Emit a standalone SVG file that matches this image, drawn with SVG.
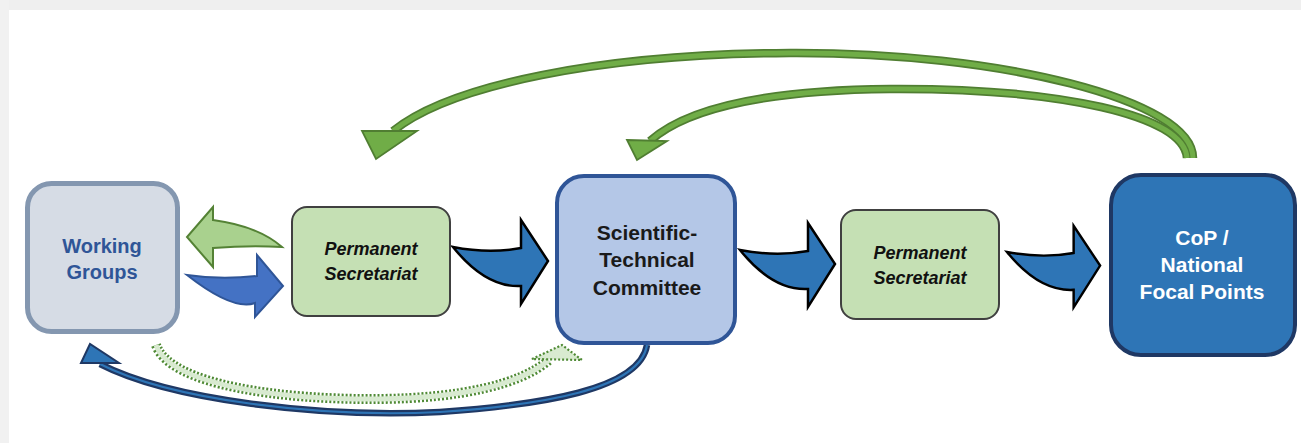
<svg xmlns="http://www.w3.org/2000/svg" xmlns:xlink="http://www.w3.org/1999/xlink" width="1301" height="443" viewBox="0 0 1301 443">
<style>
.lbl{font-family:"Liberation Sans",Arial,sans-serif;font-weight:bold;text-anchor:middle}
.wg{fill:#2f5597;font-size:20px}
.ps{fill:#111;font-size:18px;font-style:italic}
.stc{fill:#1a1a1a;font-size:21px}
.cop{fill:#fff;font-size:21px}
.blk{fill:#2e75b6;stroke:#000;stroke-width:2.5;stroke-linejoin:miter}
.garc-o{fill:none;stroke:#507e32;stroke-width:8.5}
.garc-i{fill:none;stroke:#70ad47;stroke-width:5}
.ghead{fill:#70ad47;stroke:#507e32;stroke-width:1.8;stroke-linejoin:miter}
</style>
<defs>
<path id="blkArrow" d="M0 0 Q36 7 68 1 L68 -27 L95 14 L68 57 L68 39 Q33 41 0 0 Z"/>
</defs>
<rect x="0" y="0" width="1301" height="443" fill="#fff"/>
<rect x="0" y="0" width="1301" height="10" fill="#efefef"/>
<rect x="0" y="0" width="9" height="443" fill="#f1f1f1"/>

<g id="connectors">
  <!-- top green arcs from CoP -->
  <path class="garc-o" d="M1193 158 C1193 100 1000 52 790 53 C600 54 450 85 393 131"/>
  <path class="garc-o" d="M1187 158 C1184 115 1060 88 890 89 C780 90 690 105 650 141"/>
  <path class="garc-i" d="M1193 158 C1193 100 1000 52 790 53 C600 54 450 85 393 131"/>
  <path class="garc-i" d="M1187 158 C1184 115 1060 88 890 89 C780 90 690 105 650 141"/>
  <polygon class="ghead" points="362,131 417,131 376,159"/>
  <polygon class="ghead" points="627,140 667,141 637,160"/>

  <!-- PS1 -> WG green -->
  <path d="M282 247 Q258 226 213 220 L213 207 L187 237 L213 267 L213 248 Q250 245 282 247 Z" fill="#a9d18e" stroke="#548235" stroke-width="2"/>
  <!-- WG -> PS1 blue -->
  <path d="M187 275 Q220 280 257 276 L257 255 L283 286 L255 317 L255 303 Q233 311 187 275 Z" fill="#4472c4" stroke="#2f5597" stroke-width="2"/>

  <!-- black outlined blue arrows -->
  <use xlink:href="#blkArrow" class="blk" transform="translate(453,247)"/>
  <use xlink:href="#blkArrow" class="blk" transform="translate(740,250)"/>
  <use xlink:href="#blkArrow" class="blk" transform="translate(1007,252) scale(0.98,0.97)"/>

  <!-- dotted green WG -> STC -->
  <path d="M156 345 C170 385 280 400 380 399 C460 398 520 385 549 360" fill="none" stroke="#4f8a35" stroke-width="10" stroke-dasharray="2 2"/>
  <path d="M156 345 C170 385 280 400 380 399 C460 398 520 385 549 360" fill="none" stroke="#d8ead0" stroke-width="5"/>
  <polygon points="532,359 562,345 582,360" fill="#d8ead0" stroke="#4f8a35" stroke-width="2.2" stroke-dasharray="2 2"/>

  <!-- blue STC -> WG -->
  <path d="M647 345 C640 390 540 405 440 412 C320 418 170 400 100 364" fill="none" stroke="#1f3864" stroke-width="6.5"/>
  <path d="M647 345 C640 390 540 405 440 412 C320 418 170 400 100 364" fill="none" stroke="#2e75b6" stroke-width="2.2"/>
  <polygon points="90,344 81,363 119,363" fill="#2e75b6" stroke="#1f3864" stroke-width="2"/>
</g>

<g id="node-wg">
  <rect x="27.5" y="183.5" width="150" height="148" rx="24" fill="#d6dce5" stroke="#8497b0" stroke-width="5"/>
  <text class="lbl wg" x="102" y="253">Working</text>
  <text class="lbl wg" x="102" y="279">Groups</text>
</g>
<g id="node-ps1">
  <rect x="292" y="207" width="158" height="109" rx="15" fill="#c5e0b4" stroke="#404040" stroke-width="2"/>
  <text class="lbl ps" x="371" y="255">Permanent</text>
  <text class="lbl ps" x="371" y="280">Secretariat</text>
</g>
<g id="node-stc">
  <rect x="557" y="176" width="178" height="167" rx="27" fill="#b4c7e7" stroke="#2f5597" stroke-width="4"/>
  <text class="lbl stc" x="647" y="240">Scientific-</text>
  <text class="lbl stc" x="647" y="267">Technical</text>
  <text class="lbl stc" x="647" y="295">Committee</text>
</g>
<g id="node-ps2">
  <rect x="841" y="210" width="158" height="109" rx="15" fill="#c5e0b4" stroke="#404040" stroke-width="2"/>
  <text class="lbl ps" x="920" y="259">Permanent</text>
  <text class="lbl ps" x="920" y="284">Secretariat</text>
</g>
<g id="node-cop">
  <rect x="1111" y="175" width="184" height="180" rx="30" fill="#2e75b6" stroke="#1f3864" stroke-width="4"/>
  <text class="lbl cop" x="1202" y="245">CoP /</text>
  <text class="lbl cop" x="1202" y="272">National</text>
  <text class="lbl cop" x="1202" y="299">Focal Points</text>
</g>
</svg>
